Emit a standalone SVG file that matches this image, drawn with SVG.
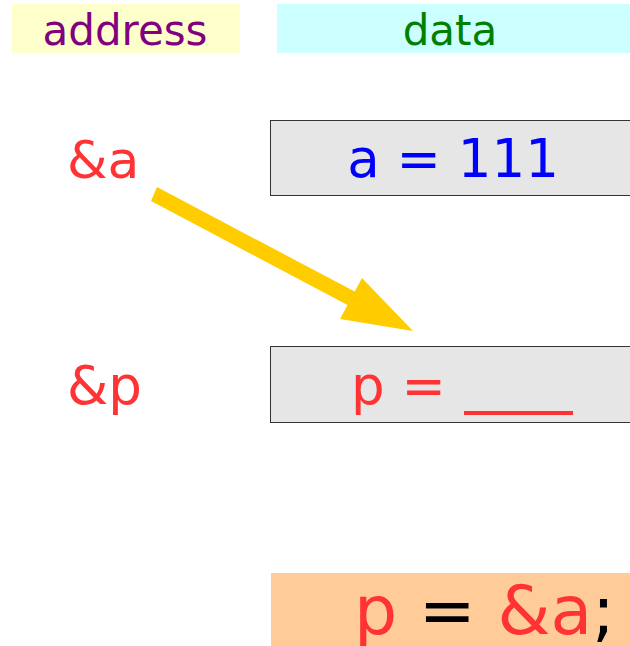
<svg xmlns="http://www.w3.org/2000/svg" width="630" height="646" viewBox="0 0 630 646">
<style>
text{font-family:"DejaVu Sans","Liberation Sans",sans-serif}
.cell{fill:#e6e6e6;stroke:#333;stroke-width:1}
.red{fill:#ff3333}
</style>
<rect width="630" height="646" fill="#fff"/>
<g id="hdr-address"><rect x="12" y="4" width="228" height="49" fill="#ffffcc"/><text x="125" y="45" font-size="42" fill="#800080" text-anchor="middle">address</text></g>
<g id="hdr-data"><rect x="277" y="4" width="353" height="49" fill="#ccffff"/><text x="450" y="45" font-size="42" fill="#008000" text-anchor="middle">data</text></g>
<g id="addr-a"><text x="67" y="178" font-size="52" class="red">&amp;a</text></g>
<g id="cell-a"><rect class="cell" x="270.5" y="120.5" width="362" height="75"/><text x="453" y="177" font-size="53" fill="#0000ff" text-anchor="middle">a = 111</text></g>
<g id="addr-p"><text x="67" y="404" font-size="53" class="red">&amp;p</text></g>
<g id="cell-p"><rect class="cell" x="270.5" y="346.5" width="362" height="76"/><text x="351" y="404" font-size="53" class="red">p =</text><rect x="464" y="411" width="109" height="4" fill="#ff3333"/></g>
<g id="code"><rect x="271" y="573" width="362" height="75" fill="#ffcc99"/><text x="354" y="634" font-size="68"><tspan fill="#ff3333">p</tspan> = <tspan fill="#ff3333">&amp;a</tspan>;</text></g>
<g id="connectors"><polygon fill="#ffcc00" points="157,187 354.7,291.6 362,278 413,331 340,319 347.5,305 151,201"/></g>
</svg>
